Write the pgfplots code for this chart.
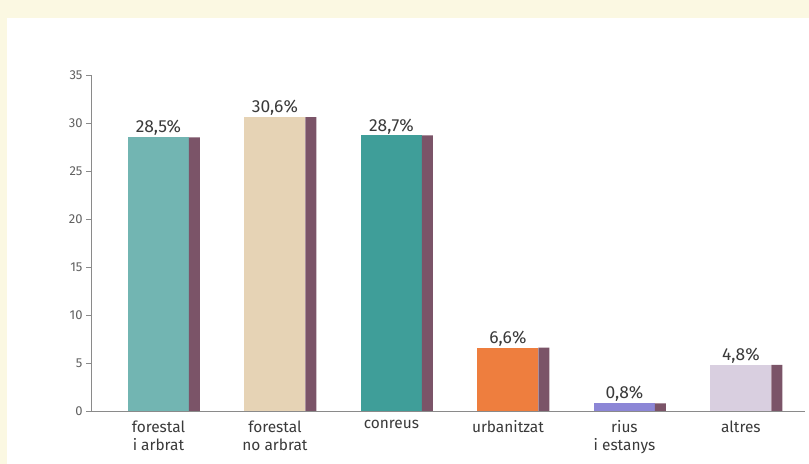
\documentclass[border=0pt]{standalone}
\usepackage{fontspec}
\setmainfont{Fira Sans}
\usepackage{pgfplots}
\pgfplotsset{compat=1.18}
\definecolor{cream}{HTML}{FBF8E2}
\definecolor{side}{HTML}{7B5468}
\definecolor{cA}{HTML}{72B5B2}
\definecolor{cB}{HTML}{E6D3B5}
\definecolor{cC}{HTML}{3F9E99}
\definecolor{cD}{HTML}{EE7E3E}
\definecolor{cE}{HTML}{8C86D6}
\definecolor{cF}{HTML}{D9CFE0}
\definecolor{txt}{HTML}{3A3A3A}
\definecolor{axisgray}{HTML}{8A8A8A}
\begin{document}
\begin{tikzpicture}[x=1bp,y=1bp]
\fill[cream] (0,0) rectangle (809,464);
\fill[white] (7,0) rectangle (809,446);
\useasboundingbox (0,0) rectangle (809,464);
\begin{axis}[
  at={(91bp,53bp)}, anchor=south west,
  scale only axis,
  width=714bp, height=336bp,
  xmin=-0.579, xmax=5.55,
  ymin=0, ymax=35,
  axis x line=bottom, axis y line=left,
  axis line style={-, draw=axisgray, line width=0.8pt},
  ytick={0,5,...,35},
  xtick={0,1,2,3,4,5},
  xticklabels={{forestal\\i arbrat},{forestal\\no arbrat},{conreus},{urbanitzat},{rius\\i estanys},{altres}},
  xticklabel style={align=center, font=\fontsize{15.5}{18.5}\selectfont, text=txt, anchor=north, yshift=-1bp},
  x tick style={draw=none},
  y tick style={draw=axisgray, line width=0.8pt},
  tick align=outside,
  major tick length=5bp,
  yticklabel style={font=\fontsize{13}{15}\selectfont, text=txt!80},
  /pgf/number format/assume math mode=true,
  clip=false,
  nodes near coords={\pgfmathprintnumber[fixed,fixed zerofill,precision=1,use comma]{\pgfplotspointmeta}\%},
  nodes near coords style={font=\fontsize{17.5}{19}\selectfont, text=txt, /pgf/number format/assume math mode=true, yshift=-2bp},
]
\addplot[ybar, bar width=0.524, bar shift=0, fill=cA, draw=none] coordinates {(0,28.5)};
\addplot[ybar, bar width=0.524, bar shift=0, fill=cB, draw=none] coordinates {(1,30.6)};
\addplot[ybar, bar width=0.524, bar shift=0, fill=cC, draw=none] coordinates {(2,28.7)};
\addplot[ybar, bar width=0.524, bar shift=0, fill=cD, draw=none] coordinates {(3,6.6)};
\addplot[ybar, bar width=0.524, bar shift=0, fill=cE, draw=none] coordinates {(4,0.8)};
\addplot[ybar, bar width=0.524, bar shift=0, fill=cF, draw=none] coordinates {(5,4.8)};
\addplot[ybar, bar width=0.094, bar shift=0.309, fill=side, draw=none, nodes near coords={}] coordinates {(0,28.5) (1,30.6) (2,28.7) (3,6.6) (4,0.8) (5,4.8)};
\end{axis}
\end{tikzpicture}
\end{document}
